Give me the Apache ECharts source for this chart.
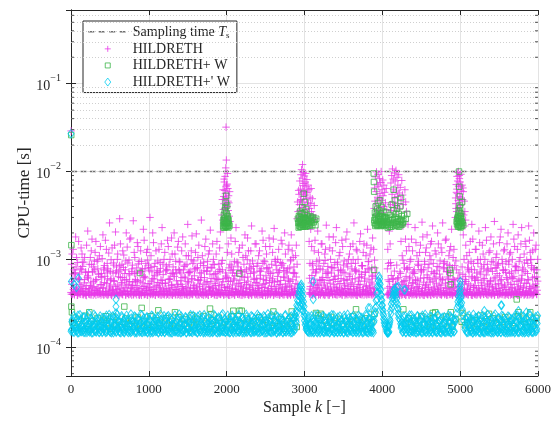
<!DOCTYPE html>
<html><head><meta charset="utf-8">
<script src="https://cdn.jsdelivr.net/npm/echarts@6/dist/echarts.min.js"></script>
<style>html,body{margin:0;padding:0;background:#fff}#c{width:560px;height:421px}</style>
</head><body><div id="c"></div>
<script>
// ---------------- DATA (CPU time in microseconds) ----------------
const xTicks = [0, 1000, 2000, 3000, 4000, 5000, 6000];
const samplingTime = 0.01; // s
const kMax = 6000;

// HILDRETH: lower dense band, sample k = 20*i
const hildLow = [
420,398,405,431,392,415,400,447,396,410,388,425,402,395,438,407,391,419,399,412,
404,393,428,401,396,444,389,411,397,422,406,392,415,400,436,394,409,398,427,391,
401,417,395,433,390,408,421,396,403,391,440,398,412,405,393,426,399,414,392,407,
395,429,402,391,416,398,410,394,437,400,389,421,406,397,413,392,430,403,396,418,
409,392,401,425,398,390,415,404,393,439,400,411,396,423,391,407,399,418,394,402,
413,397,390,428,405,393,419,401,396,434,392,410,399,424,395,406,391,417,403,398,
392,420,400,395,411,389,436,402,397,415,393,407,425,399,391,412,404,396,430,394,
405,391,418,399,427,394,null,null,null,null,null,null,null,416,402,395,410,398,425,393,
401,414,396,390,423,405,392,411,398,435,400,393,419,404,396,428,391,409,397,415,
392,406,421,398,390,413,401,396,437,404,393,418,399,407,395,422,null,null,null,null,
null,null,null,402,396,419,393,408,391,426,400,395,413,398,404,390,431,397,410,394,
418,400,392,409,396,427,403,391,414,398,405,393,422,399,410,395,436,401,392,416,
397,408,393,421,400,390,412,404,395,429,402,391,417,398,406,394,424,400,390,411,
403,396,419,392,410,399,432,401,394,415,397,408,390,426,402,395,413,398,421,393,
406,391,417,400,395,428,403,392,411,398,420,394,405,390,433,399,409,396,418,402];
// HILDRETH: lower dense band, sample k = 20*i + 5
const hildLow2 = [
401,413,395,422,390,406,433,398,411,393,427,404,396,418,391,409,440,399,414,392,
425,397,408,391,416,402,394,437,400,411,390,420,405,396,429,393,412,398,406,432,
394,409,427,396,403,390,418,400,446,392,411,405,397,423,391,414,402,395,431,399,
412,393,405,428,397,391,415,403,394,421,407,390,438,400,396,417,392,409,401,426,
398,435,392,410,401,419,395,406,390,428,403,413,397,391,424,405,399,416,393,442,
404,391,420,398,412,394,430,401,407,392,418,396,425,402,390,413,398,436,395,409,
417,396,402,390,427,405,393,414,399,433,391,408,400,421,396,411,394,429,403,392,
410,398,424,393,405,415,null,null,null,null,null,null,null,402,419,395,408,391,426,400,
393,421,404,397,415,391,409,429,398,403,395,437,400,412,392,418,406,396,423,401,
418,395,407,391,426,403,397,414,392,431,405,399,420,394,411,401,null,null,null,null,
null,null,null,394,411,397,427,403,391,416,399,408,393,434,402,396,419,390,410,405,
397,412,401,432,394,407,390,418,404,396,423,392,409,400,428,395,414,398,403,420,
406,391,425,399,411,395,419,402,393,436,400,408,392,415,404,397,427,391,412,399,
392,416,404,397,428,400,411,393,421,406,395,413,399,433,391,408,402,418,394,410,
400,425,393,409,397,418,405,391,430,399,412,396,422,402,394,416,391,407,426,398];
// HILDRETH: mid band, sample k = 20*i + 10
const hildMid = [
520,455,610,470,440,585,495,430,540,465,625,450,505,480,560,445,590,470,435,515,
475,545,430,600,460,510,440,575,490,455,635,470,525,445,580,500,435,560,465,505,
450,590,480,435,555,465,620,495,440,530,475,450,600,485,430,545,510,460,575,440,
530,460,595,445,505,480,640,455,520,435,570,490,450,615,470,540,440,585,465,500,
445,575,490,620,460,515,435,560,480,450,605,470,530,445,590,500,440,555,475,610,
490,440,565,470,600,455,525,445,580,495,435,545,465,630,480,510,450,590,440,535,
465,610,445,520,480,575,440,545,460,600,490,435,560,470,515,450,625,485,445,570,
500,455,585,440,530,470,null,null,null,null,null,null,null,460,540,445,595,480,520,450,
575,445,510,470,620,455,535,440,590,485,450,560,470,605,440,525,465,580,495,450,
540,460,600,445,515,475,635,450,565,490,440,585,465,525,450,610,null,null,null,null,
null,null,null,470,560,445,595,480,515,450,620,465,540,440,575,495,455,600,470,530,
445,585,490,460,610,440,550,475,520,455,595,445,565,485,630,450,510,470,580,440,
535,465,600,450,520,480,570,445,610,490,455,555,440,590,470,525,450,615,480,505,
460,580,445,540,470,605,455,515,440,575,495,450,625,465,530,445,590,480,510,455,
595,450,520,470,640,445,560,485,455,600,470,535,440,580,490,460,615,475,525,445];
// HILDRETH: mid band, sample k = 20*i + 15
const hildMid2 = [
560,480,700,455,610,520,760,470,590,500,650,465,540,720,490,580,460,680,515,620,
470,640,530,780,485,600,455,560,700,510,460,620,545,810,475,590,520,665,480,550,
690,505,575,460,730,540,490,615,470,800,525,565,455,650,500,710,480,585,530,460,
540,760,470,600,515,680,455,570,495,740,520,465,630,485,560,700,475,605,510,790,
475,590,525,700,460,620,540,815,490,555,470,670,505,585,455,730,515,600,480,645,
620,470,750,510,580,460,690,535,495,640,475,720,520,565,455,780,500,610,545,470,
505,660,480,590,530,805,465,615,495,700,550,460,640,515,575,470,745,525,485,600,
560,485,710,465,630,520,null,null,null,null,null,null,null,490,655,540,470,765,505,580,
470,620,540,690,485,575,460,800,515,595,475,660,530,455,715,500,585,465,640,520,
600,490,735,470,565,520,675,455,610,505,790,480,550,640,470,700,null,null,null,null,
null,null,null,585,490,655,470,735,525,600,460,690,515,560,480,770,505,625,470,545,
690,475,580,520,760,465,615,500,665,480,550,725,470,600,535,455,680,510,590,805,
480,630,545,700,465,585,510,760,490,610,470,675,525,560,455,720,500,640,480,575,
625,470,720,505,580,460,665,535,495,790,475,600,520,690,465,570,510,745,485,620,
540,690,475,605,520,745,460,580,500,660,480,725,535,590,465,800,510,630,485,565];
// HILDRETH: upper band, sample k = 40*i + 25
const hildUpper = [
680,820,590,930,720,610,870,760,990,640,800,700,580,910,740,850,620,960,690,780,
560,890,730,640,980,810,600,750,920,670,840,590,700,950,770,620,860,710,990,650,
800,580,930,740,680,880,610,770,970,700,560,840,650,910,760,620,990,690,830,600,
740,900,650,800,570,950,710,860,630,780,990,690,880,null,null,null,610,900,720,840,
590,970,700,810,640,930,760,580,890,680,990,740,620,850,710,940,660,800,null,null,
null,780,920,600,860,720,980,640,810,700,570,950,760,880,620,990,690,830,610,900,
730,850,590,960,700,820,640,910,770,600,990,680,870,740,560,930,800,650,890,710,
960,620,840,750,580,910,690,990,770,630];
// HILDRETH: sparse high samples [k, us]
const hildHigh = [[15,1150],[40,760],[60,1800],[85,920],[110,680],[130,1350],[150,830],[175,1050],[190,710],[215,2100],[235,880],[260,1250],[280,720],[300,960],[320,1600],[345,780],[365,1100],[390,690],[410,1900],[430,850],[455,1300],[470,740],[495,2600],[515,990],[540,700],[560,1450],[585,820],[600,1150],[625,2900],[640,760],[665,1250],[690,690],[710,2000],[730,910],[755,1700],[780,730],[800,2750],[820,1050],[845,800],[860,1400],[885,700],[905,950],[930,2200],[950,780],[970,1200],[995,860],[1015,3000],[1040,720],[1060,1550],[1080,900],[1105,680],[1130,1300],[1150,790],[1170,2300],[1195,1000],[1215,740],[1240,1650],[1260,870],[1285,690],[1300,1150],[1325,2000],[1345,760],[1370,1380],[1390,950],[1410,700],[1435,1800],[1455,830],[1480,1100],[1500,2500],[1520,710],[1545,1250],[1565,900],[1590,760],[1610,1950],[1630,1050],[1655,700],[1675,2800],[1700,850],[1720,1400],[1745,730],[1765,1150],[1790,2150],[1810,800],[1830,1000],[1855,690],[1875,1600],[1900,880],[1920,2050],[1945,760],[2010,1200],[2030,800],[2055,1750],[2075,700],[2100,950],[2120,2300],[2145,820],[2165,1350],[2190,720],[2210,1050],[2235,1900],[2255,760],[2280,1250],[2300,890],[2320,2400],[2345,700],[2365,1500],[2390,840],[2410,1100],[2435,730],[2455,2100],[2480,960],[2500,1400],[2520,780],[2545,1750],[2565,690],[2590,1200],[2610,2250],[2635,850],[2655,1000],[2680,740],[2700,1650],[2720,900],[2745,2000],[2765,720],[2790,1300],[2810,800],[2830,1900],[2855,1050],[2875,700],[2895,1450],[3060,1600],[3080,2200],[3100,860],[3125,1250],[3145,700],[3170,2100],[3190,980],[3215,1500],[3235,760],[3260,1150],[3280,2450],[3300,830],[3325,1350],[3345,700],[3370,1800],[3390,920],[3410,2300],[3435,750],[3455,1200],[3480,1650],[3500,860],[3520,700],[3545,2050],[3565,1000],[3590,1400],[3610,780],[3635,2600],[3655,900],[3675,1250],[3700,720],[3720,1950],[3745,840],[3765,1500],[3790,1100],[3810,2200],[3830,760],[3855,1350],[3875,1750],[3900,980],[4070,1300],[4090,2100],[4110,850],[4240,1600],[4265,2400],[4285,800],[4310,1250],[4330,2500],[4355,950],[4375,1700],[4400,720],[4420,2300],[4445,1100],[4465,850],[4490,1450],[4510,2650],[4530,760],[4555,1200],[4575,1900],[4600,880],[4620,1500],[4645,2400],[4665,700],[4690,1150],[4710,2000],[4730,820],[4755,1350],[4775,2600],[4800,940],[4820,1700],[4845,720],[4865,1250],[4890,2200],[4910,1050],[4930,850],[5040,1900],[5060,2400],[5085,1100],[5105,760],[5130,1600],[5150,2500],[5170,900],[5195,1300],[5215,700],[5240,2100],[5260,1000],[5285,1450],[5305,780],[5325,2300],[5350,880],[5370,1200],[5395,1800],[5415,730],[5440,2700],[5460,1050],[5480,860],[5505,1550],[5525,2200],[5550,760],[5570,1300],[5590,940],[5615,2000],[5635,1150],[5660,720],[5680,2500],[5700,1400],[5725,830],[5745,1900],[5770,1050],[5790,2300],[5810,760],[5835,1600],[5855,980],[5880,2400],[5900,1200],[5920,850],[5945,2000],[5965,1300],[5985,760]];
const hildHigh2 = [[8,880],[28,1300],[52,700],[72,1050],[98,1600],[122,780],[142,1150],[165,930],[200,1450],[225,720],[248,1050],[270,1700],[292,820],[310,1200],[335,950],[355,680],[378,1400],[400,1020],[420,760],[442,1650],[465,900],[485,1180],[505,730],[528,1350],[550,860],[572,2050],[595,1000],[615,720],[635,1500],[655,880],[678,1120],[700,760],[722,1380],[745,980],[768,1750],[790,860],[812,1200],[835,700],[852,1550],[875,950],[895,1250],[918,780],[940,1650],[962,900],[985,1300],[1005,740],[1028,1100],[1050,2000],[1070,830],[1092,1250],[1115,960],[1140,720],[1160,1500],[1182,880],[1205,1200],[1228,760],[1250,1400],[1272,1000],[1292,1750],[1312,820],[1335,1150],[1358,700],[1380,1600],[1400,930],[1422,1250],[1445,760],[1468,1500],[1490,880],[1510,1100],[1532,730],[1555,1850],[1578,960],[1600,1200],[1620,800],[1642,1450],[1665,900],[1688,1100],[1710,740],[1732,1700],[1755,950],[1778,1250],[1800,800],[1820,1500],[1842,870],[1865,1150],[1888,720],[1910,1350],[1932,900],[2020,1500],[2042,880],[2065,1150],[2088,760],[2110,1600],[2132,930],[2155,1200],[2178,740],[2200,1450],[2222,880],[2245,1100],[2268,1750],[2290,800],[2310,1250],[2332,960],[2355,720],[2378,1500],[2400,900],[2422,1250],[2445,780],[2468,1650],[2490,940],[2512,1150],[2535,720],[2555,1400],[2578,880],[2600,1700],[2622,1000],[2645,760],[2668,1300],[2690,920],[2712,1500],[2735,800],[2755,1150],[2778,700],[2800,1450],[2820,960],[2842,1250],[2865,820],[2885,1100],[3070,900],[3092,1400],[3112,760],[3135,1650],[3158,950],[3180,1200],[3202,780],[3225,1500],[3248,900],[3270,1300],[3292,720],[3315,1800],[3335,1000],[3358,1250],[3380,800],[3400,1550],[3422,880],[3445,1100],[3468,740],[3490,1400],[3510,960],[3532,1700],[3555,820],[3578,1150],[3600,900],[3622,1500],[3645,760],[3665,1300],[3688,1000],[3710,1600],[3732,850],[3755,1200],[3778,720],[3800,1450],[3820,950],[3842,1150],[3865,800],[3888,1300],[4080,900],[4100,1500],[4255,1100],[4278,900],[4298,1700],[4320,780],[4342,1400],[4365,1000],[4388,1250],[4410,760],[4432,1550],[4455,880],[4478,1200],[4500,720],[4520,1800],[4542,950],[4565,1350],[4588,800],[4610,1100],[4632,1600],[4655,900],[4678,1250],[4700,740],[4720,1500],[4742,960],[4765,1200],[4788,780],[4810,1650],[4832,880],[4855,1100],[4878,1400],[4900,800],[4920,1300],[5050,1000],[5072,1450],[5095,800],[5118,1200],[5140,950],[5162,1700],[5185,760],[5205,1300],[5228,900],[5250,1550],[5272,820],[5295,1150],[5318,1000],[5338,1650],[5360,760],[5382,1250],[5405,950],[5428,1500],[5450,800],[5470,1150],[5492,900],[5515,1800],[5538,1000],[5560,1250],[5580,760],[5602,1500],[5625,880],[5648,1200],[5670,1000],[5690,1700],[5712,820],[5735,1300],[5758,950],[5780,1500],[5800,800],[5822,1150],[5845,1400],[5868,900],[5890,1650],[5910,1000],[5932,1250],[5955,760],[5975,1450],[5995,1000]];
// HILDRETH: spikes near k = 0, 2000, 3000, 4000, 5000 [k, us]
const hildSpike = [[2,29000],
[1938,3200],[1945,4800],[1950,2800],[1955,6200],[1958,3700],[1962,5200],[1966,4300],[1970,7600],[1972,2900],[1975,6100],[1978,4800],[1980,8800],[1983,3800],[1985,5600],[1988,11000],[1990,4200],[1992,32000],[1994,6800],[1996,13500],[1998,3300],[2001,5000],[2004,7200],[2007,4000],[2010,9500],[2013,2800],[2016,6400],[2020,3600],[2024,5300],[2028,4400],[2033,3100],[2038,5900],[2043,2700],[1968,8200],[1986,3900],[2000,7000],[1960,2600],[2018,4600],[1976,3000],
[2905,2900],[2912,4500],[2918,3500],[2925,6100],[2930,5500],[2935,4200],[2940,7800],[2945,3600],[2950,6300],[2955,9200],[2958,4800],[2962,10500],[2965,5700],[2968,3900],[2972,8400],[2975,12000],[2978,6900],[2982,4500],[2985,9800],[2988,5200],[2992,7300],[2995,3400],[2998,8900],[3002,6000],[3005,4100],[3008,7600],[3012,5400],[3015,9500],[3018,3700],[3022,6700],[3026,4900],[3030,8100],[3035,5800],[3040,3300],[3045,7000],[3050,4400],[3058,6200],[3065,3800],[3072,5100],[3080,4300],[3090,3500],[3100,4900],[3112,3200],[3125,4100],[3140,2900],[2948,4700],[2990,5900],[3055,2800],[3070,3000],[3085,6400],[3095,2700],[2928,3000],[2952,2600],[2970,3100],[3010,2700],[3028,3000],
[3895,3800],[3900,6500],[3905,4600],[3910,8700],[3915,3200],[3920,5900],[3925,9900],[3930,4300],[3935,7200],[3940,5100],[3945,9300],[3950,3600],[3955,6800],[3960,4900],[3965,8300],[3970,5600],[3975,3900],[3980,7500],[3985,10000],[3990,4700],[3995,6200],[4000,3400],[4005,8000],[4010,5300],[4015,4000],[4020,7000],[4030,5800],[4040,4400],[4050,6400],[4058,3700],
[4105,4200],[4110,7400],[4115,3600],[4120,9000],[4125,5500],[4130,10700],[4135,4500],[4140,8200],[4145,6300],[4150,3900],[4155,9600],[4160,5000],[4165,7800],[4170,4100],[4175,10300],[4180,6000],[4185,3500],[4190,8600],[4195,5200],[4200,7000],[4205,4300],[4210,9200],[4215,5700],[4220,3800],[4230,6600],[4240,4800],[4250,7900],[4260,5400],[4270,4200],[4290,6200],[4300,4500],[4310,3500],
[4945,4300],[4950,7100],[4955,3500],[4960,8800],[4965,5600],[4970,9800],[4975,4700],[4980,6800],[4985,3900],[4990,8300],[4995,5200],[5000,7600],[5005,4100],[5010,9300],[5015,6000],[5020,3300],[5025,7000],[5030,4800],[5040,5900],[4958,6300],[4978,10000],[4992,3600],[5012,5000],
[4938,3000],[4942,5000],[4948,3800],[4952,5800],[5045,3200],[5052,4600],[5060,3500],[5070,2800],[5035,6500],[4968,7800],[4988,9000],[5008,6800]];

// HILDRETH+ W: base band, sample k = 40*i + 20
const wBase = [
190,165,210,175,228,160,198,182,215,170,205,188,162,222,178,195,168,212,185,200,
172,218,163,196,180,225,168,203,190,158,214,176,199,166,220,184,207,161,193,178,
210,170,226,186,160,201,179,217,165,194,182,223,169,205,188,158,212,175,198,163,
219,181,204,167,228,190,173,209,162,197,185,216,170,null,null,null,null,null,null,230,
178,202,165,221,188,171,210,159,196,183,224,167,205,176,213,161,192,null,null,null,
null,null,null,null,null,null,null,185,214,170,199,163,226,181,207,168,217,175,201,160,
223,187,171,209,null,195,178,218,166,203,184,229,172,197,161,214,189,206,169,220,
182,200,164,225,177,211,168,193,186,215];
// HILDRETH+ W: visible outliers [k, us]
const wOut = [[5,1450],[5,290],[12,250],[235,250],[446,225],[685,290],[887,700],[908,280],[1122,263],[1336,250],[1550,230],[1786,275],[1800,235],[2085,260],[2163,690],[2165,260],[2193,260],[2600,255],[2836,255],[3148,245],[3210,240],[3662,270],[3893,760],[3898,240],[4270,270],[4648,245],[4680,250],[4870,760],[4875,700],[4878,520],[4880,250],[5030,245],[5370,240],[5727,350],[5750,250],[5900,250]];
// HILDRETH+ W: spikes [k, us]
const wSpike = [[3,26000],
[1955,2400],[1958,2800],[1961,2300],[1964,3200],[1967,2500],[1970,2900],[1973,2300],[1976,3600],[1979,2600],[1982,2400],[1985,3000],[1988,4400],[1991,2700],[1994,5300],[1997,2400],[2000,3300],[2003,2600],[2006,4100],[2009,2900],[2012,2400],[2015,3100],[2018,2600],[2021,2300],[2025,2800],[2030,2500],[2035,2400],[1963,2650],[1975,2750],[1987,2350],[1999,2550],[2011,2750],[1981,3900],[1993,3400],[2005,2350],
[2920,2600],[2928,3100],[2935,2400],[2942,3500],[2950,2800],[2955,2500],[2960,3300],[2966,2700],[2972,3900],[2978,2450],[2985,3000],[2990,5600],[2995,2600],[3000,3400],[3005,4500],[3010,2800],[3015,2500],[3020,3700],[3026,2700],[3032,3200],[3040,2550],[3050,2900],[3060,2700],[3075,3100],[3090,2600],[3110,3000],[3130,2800],[3150,2900],[2945,2350],[2982,2350],[3012,2350],
[2915,2900],[2925,2300],[2932,2700],[2938,3000],[2948,2600],[2958,2350],[2963,2900],[2970,2500],[2975,3300],[2988,2600],[2998,2900],[3003,2450],[3018,2900],[3023,2400],[3030,2800],[3036,2400],[3045,3000],[3055,2450],[3065,2900],[3070,2400],[3082,2700],[3095,2950],[3100,2450],[3120,2650],[3140,2450],
[3890,9500],[3892,7600],[3895,5900],[3900,2600],[3905,3400],[3910,2400],[3915,4000],[3920,2800],[3925,3100],[3930,2500],[3935,3700],[3940,2700],[3945,4400],[3950,2450],[3955,3000],[3960,3600],[3965,2600],[3970,4700],[3975,2900],[3980,2400],[3985,3300],[3990,2700],[3995,3900],[4000,2500],[4005,3100],[4010,2800],[4015,3500],[4020,2600],[4030,3000],[4040,2450],[4050,3400],[4060,2700],[4070,2300],[4080,2900],[4090,2600],[4100,3200],[4110,2500],[4120,4200],[4130,2800],[4140,3600],[4150,2600],[4160,4700],[4170,3000],[4180,2500],[4190,3800],[4200,2700],[4210,3300],[4220,2500],[4230,4000],[4240,2800],[4250,3100],[4260,2600],[4280,3200],[4300,2900],[4320,3300],[4240,5000],[4145,6200],
[3898,2800],[3908,3000],[3918,2500],[3928,3300],[3938,2400],[3948,2900],[3958,2500],[3968,3100],[3978,2700],[3988,2450],[3998,3000],[4008,2500],[4018,2900],[4025,2400],[4035,2700],[4045,3000],[4055,2500],[4065,2600],[4075,2450],[4095,2350],[4105,2800],[4115,2350],[4125,3000],[4135,2450],[4155,2900],[4165,2400],[4175,3300],[4185,2650],[4195,2400],[4205,2900],[4215,2350],[4225,2700],[4235,2450],[4245,2800],[4255,2500],[4270,2700],
[4985,10000],[4988,6700],[4995,5200],[4992,4100],[4970,2600],[4975,3200],[4978,2400],[4980,3600],[4983,2800],[4986,3000],[4990,2500],[4994,3400],[4997,2700],[5000,3900],[5003,2600],[5006,3100],[5010,2400],[5015,2900],[5020,2700],[5025,4500],[4965,2900],[5005,2300],
[4960,2500],[4968,3000],[4972,2350],[4982,2500],[4988,2900],[4993,2350],[4998,3100],[5008,2700],[5013,3300],[5018,2400],[5030,2600],[5040,2450],[4955,2700]];

// HILDRETH+' W: low band, sample k = 20*i
const cyanLow = [
152,160,148,171,155,146,166,150,158,147,175,153,149,163,146,157,151,169,148,155,
147,162,153,149,174,150,146,159,155,148,167,151,146,161,149,156,172,147,153,150,
158,146,152,165,149,155,147,170,151,148,160,146,154,149,168,152,147,157,150,163,
148,155,161,147,152,146,173,150,156,148,162,147,151,158,146,166,149,153,147,160,
151,147,164,149,156,146,159,152,148,171,150,147,155,162,146,153,149,167,151,148,
156,149,146,160,151,168,147,154,149,157,146,163,150,148,172,152,147,158,149,154,
147,165,150,153,146,159,148,170,151,147,155,162,146,152,149,166,147,153,150,158,
149,155,147,163,160,null,null,null,null,null,null,160,152,147,158,150,146,164,149,153,
146,157,151,148,169,150,147,154,160,146,152,149,165,148,155,147,161,150,146,158,
152,147,163,149,155,146,170,151,148,157,150,146,162,148,154,null,null,null,null,null,
null,null,null,150,146,null,null,null,null,null,null,null,165,148,156,147,160,150,146,153,
149,158,146,152,167,150,147,155,148,161,146,153,149,170,151,147,157,150,146,159,
151,148,164,150,147,156,149,null,null,null,null,null,null,160,152,147,166,150,146,154,
148,157,150,146,163,151,147,155,149,168,146,152,150,159,147,154,148,162,150,146,
155,149,147,165,151,146,158,150,148,171,147,153,149,160,146,155,150,148,164,152];
// HILDRETH+' W: low band, sample k = 20*i + 5
const cyanLow2 = [
158,149,177,153,146,165,151,184,148,160,147,170,155,146,180,152,149,163,147,173,
150,168,147,157,182,149,154,146,175,151,163,148,187,152,146,166,150,158,147,178,
164,151,146,174,155,148,183,150,159,146,169,153,147,179,151,161,146,172,149,156,
147,176,152,162,146,181,150,155,148,171,146,159,152,185,147,165,151,149,176,153,
169,146,157,150,179,152,147,166,154,146,183,150,161,148,172,147,156,151,180,149,
152,174,148,163,146,158,186,150,149,168,153,146,177,151,160,147,182,149,155,165,
150,147,171,155,184,146,162,151,148,176,150,158,146,169,153,180,147,157,149,173,
160,146,168,152,178,null,null,null,null,null,null,165,149,174,147,156,150,183,146,162,
151,179,147,158,150,167,146,185,152,149,173,147,160,150,181,146,155,148,170,153,
176,149,154,147,182,151,164,146,170,152,148,178,150,159,146,null,null,null,null,null,
null,null,null,146,150,null,null,null,null,null,null,null,175,150,161,147,183,149,156,152,
168,147,179,150,155,146,174,152,148,181,150,157,146,165,151,149,184,147,160,153,
147,172,150,158,146,177,152,null,null,null,null,null,null,170,147,180,151,156,146,165,
152,178,147,161,150,146,183,151,157,148,170,146,176,152,149,164,147,186,150,158,
146,165,152,148,179,150,160,147,174,151,156,146,183,149,153,168,147,177,150,161];
// HILDRETH+' W: upper band, sample k = 20*i + 10
const cyanMid = [
195,180,215,172,230,188,205,168,220,190,178,240,185,200,170,225,192,182,210,175,
218,186,198,172,235,190,208,176,222,184,196,170,228,188,212,178,200,174,238,192,
182,220,176,205,190,232,172,198,215,184,206,170,226,194,180,212,188,236,176,202,
210,178,228,192,174,216,186,200,172,238,190,206,180,222,176,196,214,184,230,170,
192,224,180,208,172,234,196,182,218,176,204,188,228,174,210,194,178,240,186,200,
174,214,190,230,180,202,170,226,196,184,216,172,236,188,206,178,222,192,182,210,
226,184,204,176,220,192,240,180,210,172,198,232,186,214,176,202,190,228,174,208,
190,226,178,210,200,null,null,null,null,null,null,180,214,186,228,176,200,192,236,182,
206,178,224,190,172,212,196,234,182,204,174,220,188,200,176,230,194,180,216,170,
198,230,184,210,176,222,190,204,172,238,186,214,178,200,192,null,null,null,null,null,
null,null,null,170,180,null,null,null,null,null,null,null,190,224,178,206,186,232,174,212,
194,180,228,204,172,216,188,236,178,200,192,222,176,210,184,230,196,174,218,188,
204,176,232,190,214,180,198,null,null,null,null,null,null,186,224,178,208,192,236,174,
216,186,200,174,230,192,208,178,224,184,196,172,238,190,212,176,204,226,182,198,
180,220,192,206,174,234,188,212,178,228,196,184,216,172,240,190,204,176,222,186];
// HILDRETH+' W: upper band, sample k = 20*i + 15
const cyanMid2 = [
205,228,184,212,196,234,178,220,190,208,224,182,214,198,236,186,204,176,226,194,
188,210,230,180,216,194,226,184,206,236,192,178,218,200,186,230,210,182,214,196,
226,190,208,182,236,198,214,178,222,192,204,230,184,212,196,224,180,206,190,228,
196,222,184,214,204,180,232,192,210,186,226,198,178,216,206,188,234,182,200,220,
184,206,232,190,216,198,178,224,194,210,182,236,200,188,220,204,230,180,212,196,
230,188,204,220,182,210,196,234,184,216,200,180,222,206,190,228,184,212,198,236,
196,218,182,228,202,186,214,198,230,180,208,192,224,184,216,200,180,234,194,212,
220,184,206,236,192,null,null,null,null,null,null,200,224,188,210,196,230,182,214,190,
184,228,198,214,180,222,206,186,232,194,210,182,226,200,188,216,204,236,190,208,
222,188,212,196,230,180,218,202,186,228,196,208,184,224,200,null,null,null,null,null,
null,null,null,176,190,null,null,null,null,null,null,null,206,184,226,198,214,188,232,196,
210,192,224,182,200,230,188,214,196,180,226,204,190,218,184,234,198,210,180,222,
188,214,196,226,182,208,194,null,null,null,null,null,null,212,190,230,184,206,196,218,
200,228,182,212,194,222,186,236,198,210,184,226,204,188,216,196,230,182,208,190,
226,194,210,182,218,200,232,188,206,184,224,196,212,186,230,180,214,200,192,228];
// HILDRETH+' W: transients and outliers [k, us]
const cyanBump = [[0,27000],[5,560],[40,520],[70,480],[94,610],[578,350],[578,290],[578,245],
[2880,230],[2890,260],[2900,300],[2910,340],[2920,390],[2930,430],[2940,470],[2950,500],[2958,520],[2965,480],[2972,430],[2980,380],[2988,330],[2995,290],[3002,250],[3010,220],[3018,190],[3025,170],[3032,155],[2905,250],[2915,290],[2925,330],[2935,380],[2945,420],[2955,450],[2962,400],[2970,350],[2978,300],[2985,260],[2992,230],[3000,200],[3008,180],[2895,220],[2945,300],[2955,360],[2965,320],[2975,260],[3110,560],[3112,350],
[3820,280],[3842,280],[3900,230],[3910,280],[3920,340],[3930,410],[3940,490],[3950,570],[3958,640],[3965,600],[3972,520],[3980,450],[3988,390],[3995,340],[4002,300],[4010,260],[4018,230],[4026,205],[4034,185],[4042,170],[4050,158],[4058,150],[4066,145],[4074,148],
[4085,170],[4095,210],[4105,260],[4115,310],[4125,360],[4135,400],[4145,440],[4155,460],[4165,450],[4175,410],[4185,360],[4195,310],[4205,270],[4215,235],[4225,205],[4235,185],[4245,170],
[3915,250],[3925,290],[3935,350],[3945,420],[3955,480],[3962,540],[3970,470],[3978,400],[3985,350],[3992,300],[4000,270],[4008,240],[4016,210],[4024,190],[4032,175],[4100,200],[4110,240],[4120,280],[4130,330],[4140,370],[4150,400],[4160,410],[4170,380],[4180,330],[4190,280],[4200,240],[4210,215],
[4185,480],[4205,490],[4279,450],[4292,450],
[4940,210],[4950,240],[4960,280],[4970,330],[4980,380],[4990,430],[4998,480],[5005,440],[5012,380],[5020,320],[5028,270],[5036,230],[5045,200],[4975,300],[4985,350],[4995,400],[5002,560],[5004,510],[5006,360],[5010,300],[5018,260],[5000,330],
[5310,260],[5525,300],[5533,300],[5748,260],[5850,250]];

const names = ['Sampling time', 'HILDRETH', 'HILDRETH+ W', "HILDRETH+' W"];
const colors = {hild: '#E83AE8', w: '#3DB54A', cyan: '#00CCF0', ts: '#707070'};

// ---------------- BUILD ----------------
const US = 1e-6;
function regular(vals, start, step) {
  const out = [];
  vals.forEach((v, i) => { if (v != null) out.push([start + i * step, v * US]); });
  return out;
}
function pairs(arr) { return arr.map(p => [p[0], p[1] * US]); }

const hildData = regular(hildLow, 0, 20).concat(regular(hildLow2, 5, 20), regular(hildMid, 10, 20), regular(hildMid2, 15, 20),
  regular(hildUpper, 25, 40), pairs(hildHigh), pairs(hildHigh2), pairs(hildSpike));
const wData = regular(wBase, 20, 40).concat(pairs(wOut), pairs(wSpike));
const cyanData = regular(cyanLow, 0, 20).concat(regular(cyanLow2, 5, 20), regular(cyanMid, 10, 20), regular(cyanMid2, 15, 20), pairs(cyanBump));

const yMin = 4.7e-5, yMax = 0.69;
const minorVals = [];
for (let e = -5; e <= -1; e++) for (let m = 2; m <= 9; m++) {
  const v = Number((m * Math.pow(10, e)).toPrecision(3));
  if (v > yMin && v < yMax) minorVals.push(v);
}

const FONT = '"Liberation Serif", "DejaVu Serif", serif';
const TXT = '#262626';
const GRID = '#e3e3e3';

function decadeLabel(v) {
  const e = Math.log10(v);
  const r = Math.round(e);
  if (Math.abs(e - r) > 1e-6) return '';
  return '{b|10}{e|' + (r < 0 ? '\u2212' + (-r) : r) + '}';
}

const plusPath = 'path://M5,0V10M0,5H10';
const legDash = 'path://M0,0M40,14M0.5,7H6.5M11,7H17M21.5,7H27.5M32,7H38';
const legPlus = 'path://M0,0M40,14M17,7H23M20,4V10';
const legSquare = 'path://M0,0M40,14M17.5,4.5H22.5V9.5H17.5Z';
const legDiamond = 'path://M0,0M40,14M20,3L23,7L20,11L17,7Z';

const chart = echarts.init(document.getElementById('c'), null, {renderer: 'canvas'});
chart.setOption({
  animation: false,
  backgroundColor: '#fff',
  grid: {left: 71, right: 22, top: 10, bottom: 43, containLabel: false},
  legend: {
    orient: 'vertical', left: 83, top: 21,
    padding: [3, 7, 3, 4], itemGap: 1.6, itemWidth: 40, itemHeight: 14,
    borderColor: TXT, borderWidth: 1, backgroundColor: '#fff',
    itemStyle: {borderWidth: 1},
    selectedMode: false,
    textStyle: {fontFamily: FONT, fontSize: 14, color: TXT,
      rich: {n: {fontFamily: FONT, fontSize: 14, color: TXT, lineHeight: 16, verticalAlign: 'bottom'},
             i: {fontFamily: FONT, fontSize: 14, fontStyle: 'italic', color: TXT, lineHeight: 16, verticalAlign: 'bottom'},
             s: {fontFamily: FONT, fontSize: 9, color: TXT, lineHeight: 9, verticalAlign: 'bottom'}}},
    formatter: n => n === names[0] ? '{n|Sampling time }{i|T}{s|s}' : n,
    data: [
      {name: names[0], icon: legDash, itemStyle: {color: 'rgba(0,0,0,0)', borderColor: colors.ts, borderWidth: 1.5}},
      {name: names[1], icon: legPlus}, {name: names[2], icon: legSquare}, {name: names[3], icon: legDiamond}]
  },
  xAxis: [{
    type: 'value', min: xTicks[0], max: xTicks[xTicks.length - 1], interval: 1000,
    name: '{n|Sample }{i|k}{n| [\u2212]}', nameLocation: 'middle', nameGap: 24, nameMoveOverlap: false,
    nameTextStyle: {rich: {n: {fontFamily: FONT, fontSize: 16, color: TXT}, i: {fontFamily: FONT, fontSize: 16, fontStyle: 'italic', color: TXT}}},
    axisLine: {lineStyle: {color: TXT, width: 1}},
    axisTick: {inside: true, length: 5, lineStyle: {color: TXT}},
    axisLabel: {fontFamily: FONT, fontSize: 13, color: TXT, margin: 7, formatter: v => String(v)},
    splitLine: {show: true, lineStyle: {color: GRID, width: 1}}
  }, {
    type: 'value', position: 'top', min: xTicks[0], max: xTicks[xTicks.length - 1], interval: 1000,
    axisLine: {show: true, lineStyle: {color: TXT, width: 1}},
    axisTick: {inside: true, length: 5, lineStyle: {color: TXT}},
    axisLabel: {show: false}, splitLine: {show: false}
  }],
  yAxis: [{
    type: 'log', logBase: 10, min: yMin, max: yMax,
    name: 'CPU-time [s]', nameLocation: 'middle', nameGap: 38, nameRotate: 90, nameMoveOverlap: false,
    nameTextStyle: {fontFamily: FONT, fontSize: 17, color: TXT},
    axisLine: {show: true, lineStyle: {color: TXT, width: 1}},
    axisTick: {inside: true, length: 5, lineStyle: {color: TXT}},
    axisLabel: {margin: 10, formatter: decadeLabel,
      rich: {b: {fontFamily: FONT, fontSize: 14, color: TXT, lineHeight: 20, verticalAlign: 'bottom'},
             e: {fontFamily: FONT, fontSize: 10, color: TXT, lineHeight: 11, verticalAlign: 'top'}}},
    splitLine: {show: true, lineStyle: {color: GRID, width: 1}}
  }, {
    type: 'log', logBase: 10, min: yMin, max: yMax, position: 'right',
    axisLine: {show: true, lineStyle: {color: TXT, width: 1}},
    axisTick: {inside: true, length: 5, lineStyle: {color: TXT}},
    axisLabel: {show: false}, splitLine: {show: false}
  }],
  series: [
    {
      name: names[0], type: 'line', symbol: 'none', showSymbol: false, silent: true, z: 2,
      data: [[0, samplingTime], [kMax, samplingTime]],
      lineStyle: {color: colors.ts, width: 1.5, type: [6, 3.5]},
      markLine: {silent: true, symbol: ['none', 'none'], label: {show: false}, animation: false,
        lineStyle: {type: [1, 2], color: '#cfcfcf', width: 1},
        data: minorVals.map(v => ({yAxis: v}))}
    },
    {
      name: names[1], type: 'scatter', symbol: plusPath, symbolSize: 7.5, silent: true, large: false, progressive: 0, z: 3,
      itemStyle: {color: 'rgba(0,0,0,0)', borderColor: colors.hild, borderWidth: 1},
      data: hildData
    },
    {
      name: names[2], type: 'scatter', symbol: 'rect', symbolSize: 5.5, silent: true, large: false, progressive: 0, z: 3,
      itemStyle: {color: 'rgba(0,0,0,0)', borderColor: colors.w, borderWidth: 1},
      data: wData
    },
    {
      name: names[3], type: 'scatter', symbol: 'diamond', symbolSize: [6, 8.5], silent: true, large: false, progressive: 0, z: 3,
      itemStyle: {color: 'rgba(0,0,0,0)', borderColor: colors.cyan, borderWidth: 1},
      data: cyanData
    },
    {
      name: '_minorL', type: 'scatter', symbol: 'rect', symbolSize: [3, 1], symbolOffset: [1.5, 0], silent: true, clip: false, z: 5,
      itemStyle: {color: TXT}, data: minorVals.map(v => [0, v])
    },
    {
      name: '_minorR', type: 'scatter', symbol: 'rect', symbolSize: [3, 1], symbolOffset: [-1.5, 0], silent: true, clip: false, z: 5,
      itemStyle: {color: TXT}, data: minorVals.map(v => [kMax, v])
    }
  ]
});
</script></body></html>
